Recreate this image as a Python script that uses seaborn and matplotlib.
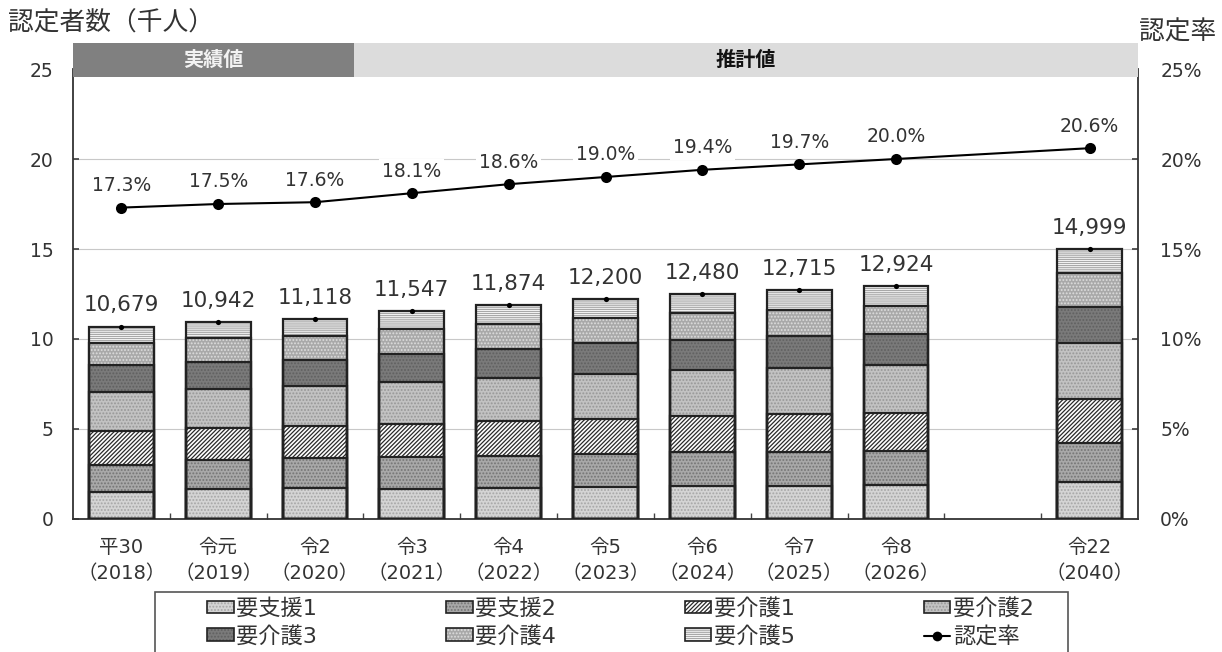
import numpy as np
import pandas as pd
import matplotlib
matplotlib.use("Agg")
import matplotlib.pyplot as plt
import seaborn as sns
from matplotlib.patches import Patch, Rectangle
from matplotlib.lines import Line2D
from matplotlib.legend_handler import HandlerTuple
from matplotlib.ticker import FixedLocator, FuncFormatter

# ---------------- data ----------------
categories = ["平30\n（2018）", "令元\n（2019）", "令2\n（2020）", "令3\n（2021）",
              "令4\n（2022）", "令5\n（2023）", "令6\n（2024）", "令7\n（2025）",
              "令8\n（2026）", "令22\n（2040）"]
series_names = ["要支援1", "要支援2", "要介護1", "要介護2", "要介護3", "要介護4", "要介護5"]
yoshien1 = [1490, 1660, 1710, 1690, 1730, 1800, 1820, 1860, 1880, 2050]
yoshien2 = [1520, 1630, 1680, 1750, 1790, 1810, 1880, 1860, 1910, 2170]
yokaigo1 = [1860, 1770, 1800, 1860, 1950, 1970, 2030, 2120, 2110, 2420]
yokaigo2 = [2200, 2180, 2180, 2330, 2380, 2460, 2530, 2570, 2640, 3110]
yokaigo3 = [1470, 1500, 1450, 1560, 1620, 1710, 1690, 1730, 1740, 2040]
yokaigo4 = [1230, 1300, 1340, 1360, 1390, 1390, 1470, 1470, 1550, 1900]
yokaigo5 = [909, 902, 958, 997, 1014, 1060, 1060, 1105, 1094, 1309]
totals = [10679, 10942, 11118, 11547, 11874, 12200, 12480, 12715, 12924, 14999]
rates = [17.3, 17.5, 17.6, 18.1, 18.6, 19.0, 19.4, 19.7, 20.0, 20.6]
rate_name = "認定率"
band_labels = ["実績値", "推計値"]

# ---------------- styles ----------------
styles = [
    dict(face="#d4d4d4", hatch=".....", hc="#a6a6a6"),    # 要支援1
    dict(face="#a8a8a8", hatch=".....", hc="#747474"),    # 要支援2
    dict(face="#ffffff", hatch="////////", hc="#2a2a2a"), # 要介護1
    dict(face="#c2c2c2", hatch=".....", hc="#979797"),    # 要介護2
    dict(face="#7a7a7a", hatch=".....", hc="#606060"),    # 要介護3
    dict(face="#a9a9a9", hatch=".....", hc="#dedede"),    # 要介護4
    dict(face="#ffffff", hatch="--------", hc="#a8a8a8"), # 要介護5
]
TXT = "#333333"

sns.set_theme(style="white")
plt.rcParams["font.family"] = ["DejaVu Sans", "Noto Sans CJK JP"]
plt.rcParams["hatch.linewidth"] = 0.9

fig = plt.figure(figsize=(12.22, 6.52), dpi=100)
ax = fig.add_axes([0.05974, 0.20399, 0.87152, 0.69018])

# slot positions: one empty slot before the last category
x_slot = np.arange(len(categories), dtype=float)
x_slot[-1] += 1

layers = [yoshien1, yoshien2, yokaigo1, yokaigo2, yokaigo3, yokaigo4, yokaigo5]
cums = np.cumsum(np.array(layers, dtype=float), axis=0) / 1000.0
BAR_W = 0.67

# filled (hatched) layers, top layer first
for k in range(len(layers) - 1, -1, -1):
    st = styles[k]
    n0 = len(ax.patches)
    sns.barplot(x=x_slot, y=cums[k], native_scale=True, width=BAR_W,
                color=st["face"], saturation=1, errorbar=None, ax=ax)
    for p in ax.patches[n0:]:
        p.set_facecolor(st["face"])
        p.set_hatch(st["hatch"])
        p.set_edgecolor(st["hc"])
        p.set_linewidth(0)
        p.set_zorder(2)
# outlines
for k in range(len(layers) - 1, -1, -1):
    n0 = len(ax.patches)
    sns.barplot(x=x_slot, y=cums[k], native_scale=True, width=BAR_W,
                color="#222222", saturation=1, errorbar=None, ax=ax)
    for p in ax.patches[n0:]:
        p.set_facecolor("none")
        p.set_hatch(None)
        p.set_edgecolor("#222222")
        p.set_linewidth(1.6)
        p.set_zorder(3)

tot_k = np.array(totals) / 1000.0
sns.scatterplot(x=x_slot, y=tot_k, color="black", s=14, linewidth=0, ax=ax,
                zorder=5, legend=False)
for xs, t in zip(x_slot, totals):
    ax.annotate(f"{t:,}", (xs, t / 1000.0), xytext=(0, 11), textcoords="offset points",
                ha="center", va="baseline", fontsize=15.5, color=TXT, zorder=6)

ax.set_xlim(-0.5, len(categories) + 0.5)
ax.set_ylim(0, 25)
ax.set_yticks([0, 5, 10, 15, 20, 25])
ax.set_xticks(x_slot)
ax.set_xticklabels(categories, fontsize=14, color=TXT, linespacing=1.45)
ax.xaxis.set_minor_locator(FixedLocator(np.arange(0.5, len(categories) + 0.5, 1.0)))
ax.tick_params(axis="x", which="major", length=0, pad=14)
ax.tick_params(axis="x", which="minor", bottom=True, direction="in", length=4,
               color="#444444", width=1)
ax.tick_params(axis="y", left=True, direction="in", length=4, color="#444444",
               labelsize=13.5, labelcolor=TXT, pad=14)
ax.yaxis.grid(True, color="#c8c8c8", lw=0.8)
ax.xaxis.grid(False)
ax.set_axisbelow(True)
ax.set_xlabel("")
ax.set_ylabel("")
for s in ["left", "bottom"]:
    ax.spines[s].set_color("#333333")
    ax.spines[s].set_linewidth(1.3)
ax.spines["top"].set_visible(False)
ax.spines["right"].set_visible(False)

# ---------------- rate line ----------------
ax2 = ax.twinx()
sns.lineplot(x=x_slot, y=rates, color="black", lw=1.5, marker="o", markersize=8,
             markeredgewidth=0, ax=ax2, zorder=4)
for xs, r in zip(x_slot, rates):
    ax2.annotate(f"{r:.1f}%", (xs, r), xytext=(0, 12), textcoords="offset points",
                 ha="center", va="baseline", fontsize=13.5, color=TXT,
                 bbox=dict(facecolor="white", edgecolor="none", pad=2), zorder=6)
ax2.set_ylim(0, 25)
ax2.set_yticks([0, 5, 10, 15, 20, 25])
ax2.yaxis.set_major_formatter(FuncFormatter(lambda v, p: f"{v:.0f}%"))
ax2.tick_params(axis="y", right=True, direction="in", length=4, color="#444444",
                labelsize=13.5, labelcolor=TXT, pad=16)
ax2.grid(False)
ax2.set_ylabel("")
for s in ["left", "bottom", "top"]:
    ax2.spines[s].set_visible(False)
ax2.spines["right"].set_color("#333333")
ax2.spines["right"].set_linewidth(1.3)
ax2.set_xlim(ax.get_xlim())

# ---------------- header band ----------------
band_split = 2.4
band_y0, band_h = 24.56, 1.88
ax2.add_patch(Rectangle((-0.5, band_y0), band_split + 0.5, band_h, facecolor="#808080",
                        edgecolor="none", clip_on=False, zorder=8))
ax2.add_patch(Rectangle((band_split, band_y0), len(categories) + 0.5 - band_split, band_h,
                        facecolor="#dcdcdc", edgecolor="none", clip_on=False, zorder=8))
ax2.text((-0.5 + band_split) / 2, band_y0 + band_h / 2, band_labels[0], ha="center",
         va="center", fontsize=14.5, fontweight="bold", color="#f2f2f2", zorder=9,
         clip_on=False)
ax2.text((band_split + len(categories) + 0.5) / 2, band_y0 + band_h / 2, band_labels[1],
         ha="center", va="center", fontsize=14.5, fontweight="bold", color="#111111",
         zorder=9, clip_on=False)

# ---------------- axis titles ----------------
fig.text(8 / 1222, 1 - 24 / 652, "認定者数（千人）", ha="left", va="center",
         fontsize=18.5, color=TXT)
fig.text(1216 / 1222, 1 - 33 / 652, rate_name, ha="right", va="center",
         fontsize=18.5, color=TXT)

# ---------------- legend ----------------
handles = []
for st in styles:
    h1 = Patch(facecolor=st["face"], hatch=st["hatch"], edgecolor=st["hc"], linewidth=0)
    h2 = Patch(facecolor="none", edgecolor="#222222", linewidth=1.2)
    handles.append((h1, h2))
handles.append(Line2D([], [], color="black", lw=1.5, marker="o", markersize=7,
                      markeredgewidth=0))
labels = series_names + [rate_name]
# reorder so that rows read left-to-right with ncol=4
order = [0, 4, 1, 5, 2, 6, 3, 7]
leg = fig.legend([handles[i] for i in order], [labels[i] for i in order], ncol=4,
                 loc="upper left", mode="expand",
                 bbox_to_anchor=(207 / 1222, 0, (1034 - 207) / 1222, 1 - 598 / 652),
                 frameon=False, fontsize=16, handlelength=1.2, handleheight=0.5,
                 handletextpad=0.12, borderpad=0, borderaxespad=0, labelspacing=0.3,
                 handler_map={tuple: HandlerTuple(ndivide=1, pad=0)})
for t in leg.get_texts():
    t.set_color(TXT)
fig.add_artist(Rectangle((155 / 1222, -0.05), (1068 - 155) / 1222, 0.05 + 1 - 592 / 652,
                         transform=fig.transFigure, fill=False, edgecolor="#555555",
                         lw=1.2))

fig.savefig("out.png", dpi=100)
